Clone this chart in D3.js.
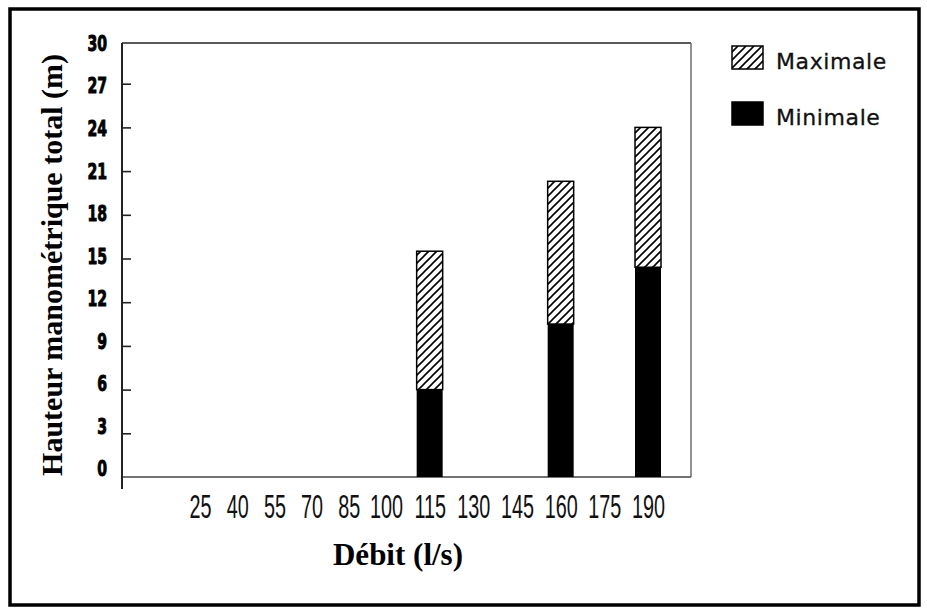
<!DOCTYPE html>
<html><head><meta charset="utf-8">
<script src="https://cdn.jsdelivr.net/npm/d3@7"></script>
<style>
body{margin:0;background:#fff;}
svg{display:block;}
</style></head>
<body>
<svg id="chart" width="927" height="614"></svg>
<script>
const debits = [25,40,55,70,85,100,115,130,145,160,175,190];
const minimale = [0,0,0,0,0,0,6.0,0,0,10.5,0,14.4];
const maximale = [0,0,0,0,0,0,15.5,0,0,20.3,0,24.0];
const yTicks = [0,3,6,9,12,15,18,21,24,27,30];
const seriesNames = ["Maximale","Minimale"];
const xTitle = "Débit (l/s)";
const yTitle = "Hauteur manométrique total (m)";

const svg = d3.select("#chart");
const defs = svg.append("defs");
const pat = defs.append("pattern").attr("id","hatch").attr("patternUnits","userSpaceOnUse")
  .attr("width",8).attr("height",8);
pat.append("rect").attr("width",8).attr("height",8).attr("fill","#fff");
pat.append("path").attr("d","M-2,2 L2,-2 M0,8 L8,0 M6,10 L10,6")
  .attr("stroke","#000").attr("stroke-width",1.6);

// outer frame
svg.append("rect").attr("x",10).attr("y",9).attr("width",909).attr("height",596)
  .attr("fill","none").attr("stroke","#000").attr("stroke-width",3.5);

const pLeft=122, pRight=691, pTop=43, pBase=477;
const x = d3.scaleLinear().domain([25,100,190]).range([200,386,648]);
const y = d3.scaleLinear().domain([0,30]).range([pBase,40]);
const yLab = d3.scaleLinear().domain([0,30]).range([468,42.5]);
const barW = 26;

// plot frame
svg.append("line").attr("x1",pLeft).attr("x2",pRight).attr("y1",pTop).attr("y2",pTop)
  .attr("stroke","#222").attr("stroke-width",1.6);
svg.append("line").attr("x1",pRight).attr("x2",pRight).attr("y1",pTop).attr("y2",pBase)
  .attr("stroke","#555").attr("stroke-width",1.3);
svg.append("line").attr("x1",pLeft).attr("x2",pRight).attr("y1",pBase).attr("y2",pBase)
  .attr("stroke","#444").attr("stroke-width",1.5);

// y ticks
const yAxis = svg.append("g").attr("transform",`translate(${pLeft},0)`)
  .call(d3.axisRight(y).tickValues(yTicks.filter(v=>v>0 && v<30)).tickSize(9).tickFormat(""));
yAxis.select(".domain").remove();
yAxis.selectAll(".tick line").attr("stroke","#222").attr("stroke-width",1.6);
svg.append("line").attr("x1",pLeft).attr("x2",pLeft).attr("y1",pTop).attr("y2",489)
  .attr("stroke","#222").attr("stroke-width",2);

// y labels
const yLabAxis = svg.append("g").attr("transform","translate(107,0)")
  .call(d3.axisLeft(yLab).tickValues(yTicks).tickSize(0).tickPadding(0));
yLabAxis.select(".domain").remove();
yLabAxis.selectAll("text").attr("font-family","'DejaVu Sans',sans-serif")
  .attr("font-weight","bold").attr("font-size",22).attr("fill","#000").attr("dy","0.36em")
  .attr("transform","scale(0.64,1)").attr("stroke","#000").attr("stroke-width",1);

// x labels
const xAxis = svg.append("g").attr("transform",`translate(0,${pBase})`)
  .call(d3.axisBottom(x).tickValues(debits).tickSize(0).tickPadding(0));
xAxis.select(".domain").remove();
xAxis.selectAll("text").attr("font-family","'Liberation Sans',sans-serif")
  .attr("font-size",33).attr("fill","#111").attr("dy",0).attr("y",41)
  .attr("transform","scale(0.6,1)");

// bars
const data = debits.map((d,i)=>({d, min:minimale[i], max:maximale[i]})).filter(o=>o.max>0);
svg.append("g").selectAll("rect").data(data).join("rect")
  .attr("x",o=>x(o.d)-barW/2).attr("width",barW)
  .attr("y",o=>y(o.max)).attr("height",o=>y(o.min)-y(o.max))
  .attr("fill","url(#hatch)").attr("stroke","#000").attr("stroke-width",1.5);
svg.append("g").selectAll("rect").data(data).join("rect")
  .attr("x",o=>x(o.d)-barW/2).attr("width",barW)
  .attr("y",o=>y(o.min)).attr("height",o=>pBase-y(o.min))
  .attr("fill","#000");

// titles
svg.append("text").attr("x",398).attr("y",565).attr("text-anchor","middle")
  .attr("font-family","'Liberation Serif','Times New Roman',serif").attr("font-weight","bold")
  .attr("font-size",31).text(xTitle);
svg.append("text").attr("transform","translate(62,265) rotate(-90)").attr("text-anchor","middle")
  .attr("font-family","'Liberation Serif','Times New Roman',serif").attr("font-weight","bold")
  .attr("font-size",30).text(yTitle);

// legend
const leg = svg.append("g");
const legItems = [{name:seriesNames[0], fill:"url(#hatch)", y:46},{name:seriesNames[1], fill:"#000", y:102}];
leg.selectAll("rect").data(legItems).join("rect")
  .attr("x",732).attr("y",d=>d.y).attr("width",31).attr("height",23)
  .attr("fill",d=>d.fill).attr("stroke","#000").attr("stroke-width",1.5);
leg.selectAll("text").data(legItems).join("text")
  .attr("x",776).attr("y",d=>d.y+23)
  .attr("font-family","'DejaVu Sans',sans-serif").attr("font-size",22)
  .attr("letter-spacing",0.6).attr("fill","#111").attr("stroke","#111").attr("stroke-width",0.3)
  .text(d=>d.name);
</script>
</body></html>
